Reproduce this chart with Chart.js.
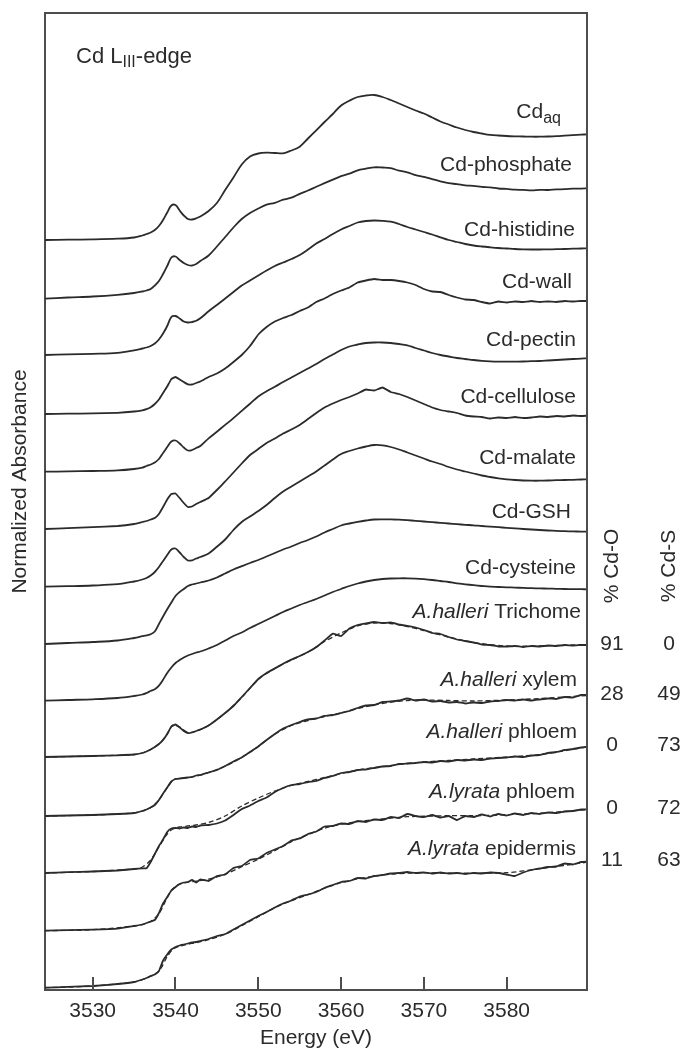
<!DOCTYPE html>
<html>
<head>
<meta charset="utf-8">
<title>Cd L3-edge XANES</title>
<script src="https://cdn.jsdelivr.net/npm/chart.js@4.4.1/dist/chart.umd.min.js"></script>
<style>
  body { margin: 0; background: #fff; }
  canvas { display: block; }
</style>
</head>
<body>
<canvas id="xanes" width="686" height="1049"></canvas>
<script>
// energy grid (eV) shared by the measured spectra
const energy = [
  3524.2, 3527, 3530, 3533, 3535,
  3536, 3536.5, 3537, 3537.5, 3538, 3538.5, 3539, 3539.5, 3540, 3540.5, 3541, 3541.5, 3542, 3542.5, 3543,
  3544, 3545, 3546, 3547, 3548, 3549, 3550, 3551, 3552, 3553,
  3554, 3555, 3556, 3557, 3558, 3559, 3560, 3561, 3562, 3563,
  3564, 3565, 3566, 3567, 3568, 3569, 3570, 3571, 3572, 3573,
  3574, 3575, 3576, 3577, 3578, 3579, 3580, 3581, 3582, 3583,
  3584, 3585, 3586, 3587, 3588, 3589, 3589.7
];

// normalized absorbance, reference compounds
const cdAq = [
  0, 0.003, 0.006, 0.013, 0.025,
  0.045, 0.06, 0.075, 0.10, 0.14, 0.20, 0.275, 0.345, 0.35, 0.295, 0.245, 0.21, 0.205, 0.217, 0.235,
  0.29, 0.37, 0.50, 0.625, 0.755, 0.835, 0.865, 0.873, 0.87, 0.867,
  0.895, 0.933, 1.015, 1.097, 1.18, 1.26, 1.345, 1.393, 1.43, 1.445,
  1.45, 1.43, 1.40, 1.365, 1.33, 1.295, 1.265, 1.225, 1.185, 1.155,
  1.125, 1.10, 1.08, 1.065, 1.052, 1.045, 1.04, 1.037, 1.035, 1.033,
  1.033, 1.035, 1.038, 1.043, 1.048, 1.053, 1.057
];
const cdPhosphate = [
  0, 0.012, 0.022, 0.039, 0.057,
  0.072, 0.082, 0.097, 0.132, 0.177, 0.247, 0.327, 0.412, 0.422, 0.387, 0.357, 0.337, 0.332, 0.347, 0.377,
  0.432, 0.522, 0.617, 0.712, 0.797, 0.857, 0.902, 0.94, 0.958, 0.99,
  1.01, 1.049, 1.082, 1.119, 1.155, 1.19, 1.226, 1.25, 1.284, 1.30,
  1.314, 1.312, 1.306, 1.28, 1.264, 1.235, 1.218, 1.195, 1.174, 1.155,
  1.146, 1.133, 1.128, 1.118, 1.113, 1.102, 1.098, 1.09, 1.088, 1.084,
  1.088, 1.087, 1.093, 1.095, 1.10, 1.101, 1.104
];
const cdHistidine = [
  0, 0.006, 0.012, 0.022, 0.047,
  0.065, 0.075, 0.09, 0.115, 0.155, 0.215, 0.29, 0.38, 0.39, 0.365, 0.335, 0.325, 0.33, 0.342, 0.367,
  0.437, 0.50, 0.565, 0.63, 0.695, 0.745, 0.795, 0.845, 0.89, 0.925,
  0.96, 1.00, 1.055, 1.115, 1.16, 1.21, 1.255, 1.29, 1.325, 1.34,
  1.345, 1.342, 1.333, 1.31, 1.28, 1.255, 1.23, 1.205, 1.177, 1.15,
  1.13, 1.11, 1.095, 1.085, 1.077, 1.07, 1.065, 1.06, 1.057, 1.055,
  1.055, 1.056, 1.058, 1.06, 1.063, 1.065, 1.067
];
const cdWall = [
  0, 0.003, 0.006, 0.012, 0.025,
  0.037, 0.048, 0.067, 0.10, 0.145, 0.21, 0.275, 0.35, 0.37, 0.345, 0.32, 0.297, 0.295, 0.31, 0.325,
  0.37, 0.405, 0.455, 0.52, 0.59, 0.68, 0.795, 0.87, 0.925, 0.96,
  0.99, 1.03, 1.065, 1.12, 1.155, 1.20, 1.235, 1.265, 1.315, 1.335,
  1.35, 1.34, 1.34, 1.33, 1.315, 1.29, 1.25, 1.225, 1.22, 1.19,
  1.165, 1.145, 1.14, 1.12, 1.105, 1.125, 1.115, 1.125, 1.12, 1.13,
  1.12, 1.125, 1.12, 1.13, 1.125, 1.13, 1.13
];
const cdPectin = [
  0, 0.003, 0.007, 0.013, 0.027,
  0.041, 0.057, 0.072, 0.092, 0.127, 0.187, 0.247, 0.302, 0.312, 0.282, 0.242, 0.212, 0.217, 0.237, 0.257,
  0.333, 0.40, 0.468, 0.536, 0.608, 0.68, 0.752, 0.804, 0.85, 0.897,
  0.942, 0.987, 1.032, 1.077, 1.127, 1.172, 1.217, 1.252, 1.272, 1.287,
  1.292, 1.292, 1.287, 1.277, 1.264, 1.237, 1.212, 1.187, 1.167, 1.152,
  1.137, 1.127, 1.117, 1.109, 1.104, 1.101, 1.10, 1.10, 1.102, 1.105,
  1.107, 1.112, 1.117, 1.122, 1.127, 1.131, 1.134
];
const cdCellulose = [
  0, 0.008, 0.018, 0.03, 0.05,
  0.07, 0.08, 0.095, 0.11, 0.15, 0.22, 0.295, 0.35, 0.355, 0.31, 0.26, 0.22, 0.225, 0.25, 0.27,
  0.31, 0.39, 0.475, 0.565, 0.655, 0.74, 0.80, 0.86, 0.905, 0.955,
  0.995, 1.04, 1.10, 1.16, 1.215, 1.255, 1.29, 1.32, 1.355, 1.395,
  1.385, 1.415, 1.37, 1.35, 1.32, 1.285, 1.25, 1.215, 1.19, 1.175,
  1.16, 1.135, 1.125, 1.12, 1.105, 1.115, 1.11, 1.12, 1.11, 1.115,
  1.125, 1.12, 1.13, 1.125, 1.135, 1.13, 1.133
];
const cdMalate = [
  0, 0.005, 0.012, 0.025, 0.052,
  0.072, 0.087, 0.112, 0.147, 0.197, 0.257, 0.317, 0.372, 0.382, 0.342, 0.297, 0.262, 0.264, 0.282, 0.297,
  0.333, 0.40, 0.472, 0.567, 0.647, 0.702, 0.757, 0.817, 0.887, 0.951,
  1.002, 1.052, 1.102, 1.152, 1.212, 1.272, 1.327, 1.357, 1.382, 1.402,
  1.417, 1.414, 1.397, 1.372, 1.342, 1.312, 1.282, 1.252, 1.227, 1.197,
  1.172, 1.152, 1.132, 1.112, 1.097, 1.084, 1.074, 1.067, 1.062, 1.06,
  1.06, 1.062, 1.065, 1.067, 1.069, 1.072, 1.074
];
const cdGSH = [
  0, 0.01, 0.02, 0.035, 0.06,
  0.078, 0.087, 0.097, 0.125, 0.20, 0.275, 0.347, 0.415, 0.48, 0.52, 0.55, 0.58, 0.595, 0.605, 0.615,
  0.635, 0.665, 0.705, 0.745, 0.778, 0.81, 0.84, 0.875, 0.91, 0.945,
  0.975, 1.01, 1.04, 1.075, 1.115, 1.15, 1.185, 1.205, 1.222, 1.235,
  1.245, 1.247, 1.246, 1.243, 1.238, 1.232, 1.225, 1.218, 1.212, 1.205,
  1.198, 1.192, 1.187, 1.18, 1.174, 1.168, 1.162, 1.156, 1.15, 1.145,
  1.14, 1.135, 1.131, 1.128, 1.126, 1.124, 1.123
];
const cdCysteine = [
  0, 0.007, 0.014, 0.027, 0.047,
  0.062, 0.077, 0.097, 0.115, 0.15, 0.21, 0.277, 0.332, 0.377, 0.407, 0.432, 0.452, 0.467, 0.482, 0.492,
  0.522, 0.557, 0.602, 0.647, 0.682, 0.727, 0.767, 0.807, 0.847, 0.887,
  0.922, 0.957, 0.987, 1.017, 1.052, 1.087, 1.117, 1.147, 1.172, 1.192,
  1.207, 1.217, 1.222, 1.224, 1.224, 1.221, 1.215, 1.207, 1.197, 1.187,
  1.174, 1.164, 1.155, 1.147, 1.14, 1.137, 1.134, 1.131, 1.128, 1.125,
  1.123, 1.121, 1.119, 1.117, 1.116, 1.115, 1.114
];

// normalized absorbance, plant samples
const halleriTrichome = [
  0, 0.005, 0.01, 0.017, 0.025,
  0.04, 0.055, 0.075, 0.10, 0.13, 0.17, 0.23, 0.305, 0.325, 0.295, 0.26, 0.24, 0.245, 0.26, 0.275,
  0.315, 0.375, 0.44, 0.51, 0.60, 0.69, 0.78, 0.84, 0.886, 0.932,
  0.974, 1.01, 1.05, 1.097, 1.165, 1.234, 1.21, 1.285, 1.32, 1.335,
  1.35, 1.34, 1.345, 1.325, 1.31, 1.295, 1.27, 1.24, 1.23, 1.20,
  1.175, 1.16, 1.145, 1.125, 1.12, 1.105, 1.105, 1.11, 1.10, 1.11,
  1.105, 1.115, 1.11, 1.12, 1.115, 1.12, 1.12
];
const halleriXylem = [
  0, 0.005, 0.01, 0.02, 0.03,
  0.05, 0.065, 0.085, 0.11, 0.16, 0.225, 0.285, 0.345, 0.37, 0.375, 0.38, 0.385, 0.39, 0.405, 0.41,
  0.435, 0.46, 0.50, 0.545, 0.585, 0.64, 0.695, 0.76, 0.82, 0.875,
  0.91, 0.94, 0.965, 0.975, 1.00, 1.01, 1.03, 1.05, 1.08, 1.105,
  1.11, 1.14, 1.145, 1.155, 1.175, 1.155, 1.165, 1.145, 1.15, 1.135,
  1.14, 1.125, 1.135, 1.13, 1.145, 1.15, 1.16, 1.155, 1.165, 1.155,
  1.165, 1.175, 1.17, 1.19, 1.185, 1.21, 1.21
];
const halleriPhloem = [
  0, 0.008, 0.015, 0.025, 0.04,
  0.047, 0.047, 0.11, 0.19, 0.27, 0.335, 0.41, 0.445, 0.45, 0.445, 0.455, 0.45, 0.465, 0.46, 0.475,
  0.48, 0.495, 0.525, 0.58, 0.64, 0.675, 0.72, 0.755, 0.81, 0.85,
  0.88, 0.89, 0.91, 0.92, 0.95, 0.97, 1.00, 1.01, 1.03, 1.035,
  1.05, 1.065, 1.07, 1.09, 1.095, 1.10, 1.11, 1.105, 1.12, 1.115,
  1.13, 1.125, 1.135, 1.13, 1.145, 1.15, 1.155, 1.165, 1.16, 1.175,
  1.18, 1.20, 1.21, 1.23, 1.24, 1.255, 1.263
];
const lyrataPhloem = [
  0, 0.005, 0.01, 0.02, 0.047,
  0.062, 0.077, 0.092, 0.107, 0.177, 0.272, 0.337, 0.402, 0.437, 0.467, 0.482, 0.487, 0.507, 0.482, 0.512,
  0.497, 0.547, 0.562, 0.627, 0.647, 0.707, 0.722, 0.777, 0.812, 0.847,
  0.902, 0.922, 0.967, 0.992, 1.042, 1.047, 1.072, 1.067, 1.097, 1.087,
  1.112, 1.107, 1.137, 1.127, 1.167, 1.147, 1.137, 1.157, 1.132, 1.147,
  1.107, 1.147, 1.137, 1.162, 1.142, 1.167, 1.152, 1.172, 1.157, 1.177,
  1.167, 1.182, 1.177, 1.192, 1.197, 1.212, 1.214
];
const lyrataEpidermis = [
  0, 0.008, 0.017, 0.037, 0.057,
  0.082, 0.097, 0.117, 0.132, 0.167, 0.272, 0.332, 0.382, 0.407, 0.422, 0.432, 0.442, 0.452, 0.457, 0.467,
  0.487, 0.517, 0.537, 0.582, 0.627, 0.672, 0.717, 0.757, 0.802, 0.842,
  0.872, 0.912, 0.932, 0.957, 0.997, 1.027, 1.057, 1.067, 1.097, 1.092,
  1.117, 1.127, 1.142, 1.147, 1.157, 1.147, 1.152, 1.142, 1.152, 1.142,
  1.147, 1.137, 1.147, 1.142, 1.152, 1.147, 1.132, 1.117, 1.152, 1.177,
  1.192, 1.207, 1.212, 1.242, 1.232, 1.257, 1.26
];

// linear-combination fits of the samples, on a coarser grid
const fitEnergy = [
  3524.2, 3530, 3535, 3536, 3537, 3538, 3539, 3539.7, 3540.5, 3541.5,
  3542.5, 3544, 3546, 3548, 3550, 3552, 3554, 3556, 3558, 3560,
  3562, 3564, 3566, 3568, 3570, 3573, 3576, 3580, 3584, 3589.7
];
const fitTrichome = [
  0, 0.01, 0.025, 0.04, 0.075, 0.13, 0.23, 0.32, 0.30, 0.245,
  0.26, 0.315, 0.44, 0.595, 0.775, 0.885, 0.97, 1.05, 1.155, 1.24,
  1.31, 1.34, 1.335, 1.305, 1.265, 1.20, 1.145, 1.11, 1.11, 1.125
];
const fitXylem = [
  0, 0.01, 0.03, 0.05, 0.085, 0.16, 0.285, 0.36, 0.375, 0.385,
  0.40, 0.435, 0.50, 0.585, 0.695, 0.82, 0.905, 0.955, 0.995, 1.03,
  1.075, 1.11, 1.14, 1.155, 1.16, 1.155, 1.15, 1.16, 1.175, 1.205
];
const fitHalleriPhloem = [
  0, 0.015, 0.04, 0.06, 0.13, 0.26, 0.39, 0.44, 0.46, 0.47,
  0.48, 0.505, 0.57, 0.67, 0.75, 0.82, 0.875, 0.915, 0.955, 0.995,
  1.03, 1.055, 1.075, 1.095, 1.11, 1.125, 1.14, 1.16, 1.185, 1.26
];
const fitLyrataPhloem = [
  0, 0.01, 0.047, 0.062, 0.092, 0.17, 0.33, 0.42, 0.465, 0.485,
  0.495, 0.515, 0.565, 0.64, 0.715, 0.80, 0.89, 0.96, 1.025, 1.065,
  1.09, 1.11, 1.125, 1.14, 1.145, 1.15, 1.15, 1.16, 1.175, 1.21
];
const fitEpidermis = [
  0, 0.017, 0.057, 0.08, 0.115, 0.165, 0.31, 0.385, 0.415, 0.435,
  0.45, 0.48, 0.535, 0.62, 0.71, 0.80, 0.87, 0.93, 0.995, 1.05,
  1.09, 1.115, 1.135, 1.145, 1.15, 1.145, 1.145, 1.15, 1.19, 1.255
];

// vertical stacking offset of each trace, top to bottom
const offsets = [7.50, 6.913, 6.35, 5.76, 5.183, 4.61, 4.033, 3.46, 2.893, 2.33, 1.74, 1.17, 0.593, 0.023];

const standardNames = ['Cd_aq', 'Cd-phosphate', 'Cd-histidine', 'Cd-wall', 'Cd-pectin',
  'Cd-cellulose', 'Cd-malate', 'Cd-GSH', 'Cd-cysteine'];
const sampleSpecies = ['A.halleri', 'A.halleri', 'A.halleri', 'A.lyrata', 'A.lyrata'];
const sampleTissues = ['Trichome', 'xylem', 'phloem', 'phloem', 'epidermis'];
const pctCdO = [91, 28, 0, 0, 11];
const pctCdS = [0, 49, 73, 72, 63];
const energyTicks = [3530, 3540, 3550, 3560, 3570, 3580];

const spectra = [cdAq, cdPhosphate, cdHistidine, cdWall, cdPectin, cdCellulose, cdMalate, cdGSH, cdCysteine,
  halleriTrichome, halleriXylem, halleriPhloem, lyrataPhloem, lyrataEpidermis];
const fits = [fitTrichome, fitXylem, fitHalleriPhloem, fitLyrataPhloem, fitEpidermis];
const noisy = [false, false, false, true, false, true, false, false, false, true, true, true, true, true];

const ink = '#2b2b2b';
const axisInk = '#4d4d4d';
const family = "'Liberation Sans', Arial, Helvetica, sans-serif";
Chart.defaults.font.family = family;

const stack = (xs, ys, base) => xs.map((e, i) => ({ x: e, y: base + ys[i] }));

const datasets = [];
spectra.forEach((s, k) => {
  datasets.push({
    data: stack(energy, s, offsets[k]),
    borderColor: ink,
    borderWidth: 1.8,
    pointRadius: 0,
    tension: noisy[k] ? 0.1 : 0.35,
    order: 0
  });
});
fits.forEach((f, j) => {
  datasets.push({
    data: stack(fitEnergy, f, offsets[9 + j]),
    borderColor: ink,
    borderWidth: 1.3,
    borderDash: [5, 3],
    pointRadius: 0,
    tension: 0.3,
    order: 1
  });
});

// label placement (in absorbance units above each baseline) and inset from the right frame
const labelLift = [1.30, 1.357, 1.267, 1.34, 1.334, 1.34, 1.30, 1.34, 1.34, 1.47, 1.377, 1.43, 1.40, 1.404];
const labelInset = [26, 15, 12, 15, 11, 11, 11, 16, 11, 6, 10, 10, 12, 11];

const mainFont = '21px ' + family;
const subFont = '16px ' + family;
const italicFont = 'italic 21px ' + family;
const edgeFont = '22px ' + family;

function drawRuns(ctx, runs, x, baseY, alignRight) {
  let total = 0;
  runs.forEach(r => { ctx.font = r.font; r.w = ctx.measureText(r.text).width; total += r.w; });
  let cx = alignRight ? x - total : x;
  ctx.textAlign = 'left';
  ctx.textBaseline = 'alphabetic';
  runs.forEach(r => {
    ctx.font = r.font;
    ctx.fillText(r.text, cx, baseY + (r.dy || 0));
    cx += r.w;
  });
}

const decor = {
  id: 'decor',
  afterDraw(chart) {
    const { ctx, chartArea: area, scales: { x, y } } = chart;
    ctx.save();

    // frame top and right
    ctx.strokeStyle = axisInk;
    ctx.lineWidth = 2;
    ctx.beginPath();
    ctx.moveTo(area.left - 1, area.top);
    ctx.lineTo(area.right, area.top);
    ctx.lineTo(area.right, area.bottom + 1);
    ctx.stroke();

    // tick marks pointing into the plot
    ctx.beginPath();
    energyTicks.forEach(v => {
      const px = Math.round(x.getPixelForValue(v));
      ctx.moveTo(px, area.bottom);
      ctx.lineTo(px, area.bottom - 13);
    });
    ctx.stroke();

    ctx.fillStyle = ink;

    // y axis title
    ctx.save();
    ctx.translate(area.left - 25, (area.top + area.bottom) / 2 - 20);
    ctx.rotate(-Math.PI / 2);
    ctx.font = mainFont;
    ctx.textAlign = 'center';
    ctx.textBaseline = 'middle';
    ctx.fillText('Normalized Absorbance', 0, 0);
    ctx.restore();

    // edge name
    drawRuns(ctx, [
      { text: 'Cd L', font: edgeFont },
      { text: 'III', font: subFont, dy: 4 },
      { text: '-edge', font: edgeFont }
    ], area.left + 31, area.top + 50, false);

    // trace labels
    standardNames.forEach((name, k) => {
      const baseY = y.getPixelForValue(offsets[k] + labelLift[k]) + 7.5;
      const [main, sub] = name.split('_');
      const runs = [{ text: main, font: mainFont }];
      if (sub) runs.push({ text: sub, font: subFont, dy: 5 });
      drawRuns(ctx, runs, area.right - labelInset[k], baseY, true);
    });
    sampleSpecies.forEach((sp, j) => {
      const k = 9 + j;
      const baseY = y.getPixelForValue(offsets[k] + labelLift[k]) + 7.5;
      drawRuns(ctx, [
        { text: sp, font: italicFont },
        { text: ' ' + sampleTissues[j], font: mainFont }
      ], area.right - labelInset[k], baseY, true);
    });

    // fit composition columns
    const colO = area.right + 25;
    const colS = area.right + 82;
    ctx.font = mainFont;
    ctx.textAlign = 'center';
    ctx.textBaseline = 'middle';
    [['% Cd-O', colO], ['% Cd-S', colS]].forEach(([t, cx]) => {
      ctx.save();
      ctx.translate(cx, 566);
      ctx.rotate(-Math.PI / 2);
      ctx.fillText(t, 0, 0);
      ctx.restore();
    });
    pctCdO.forEach((v, j) => {
      const k = 9 + j;
      const s = spectra[k];
      const py = y.getPixelForValue(offsets[k] + s[s.length - 1]) - 1;
      ctx.fillText(String(v), colO, py);
      ctx.fillText(String(pctCdS[j]), colS, py);
    });

    ctx.restore();
  }
};

new Chart(document.getElementById('xanes'), {
  type: 'line',
  data: { datasets },
  options: {
    responsive: false,
    animation: false,
    devicePixelRatio: 1,
    layout: { padding: { top: 13, right: 99, left: 0, bottom: 0 } },
    plugins: { legend: { display: false }, tooltip: { enabled: false } },
    scales: {
      x: {
        type: 'linear',
        min: 3524.24,
        max: 3589.7,
        afterFit: s => { s.height = 59; },
        afterBuildTicks: s => { s.ticks = energyTicks.map(v => ({ value: v })); },
        grid: { display: false, drawTicks: false },
        border: { display: true, color: axisInk, width: 2 },
        ticks: {
          color: ink,
          font: { size: 21 },
          padding: 9,
          maxRotation: 0,
          autoSkip: false,
          callback: v => String(v)
        },
        title: {
          display: true,
          text: 'Energy (eV)',
          color: ink,
          font: { size: 21, lineHeight: 1.05 },
          padding: { top: 0, bottom: 0 }
        }
      },
      y: {
        min: 0,
        max: 9.77,
        afterFit: s => { s.width = 45; },
        ticks: { display: false },
        grid: { display: false, drawTicks: false },
        border: { display: true, color: axisInk, width: 2 }
      }
    }
  },
  plugins: [decor]
});
</script>
</body>
</html>
